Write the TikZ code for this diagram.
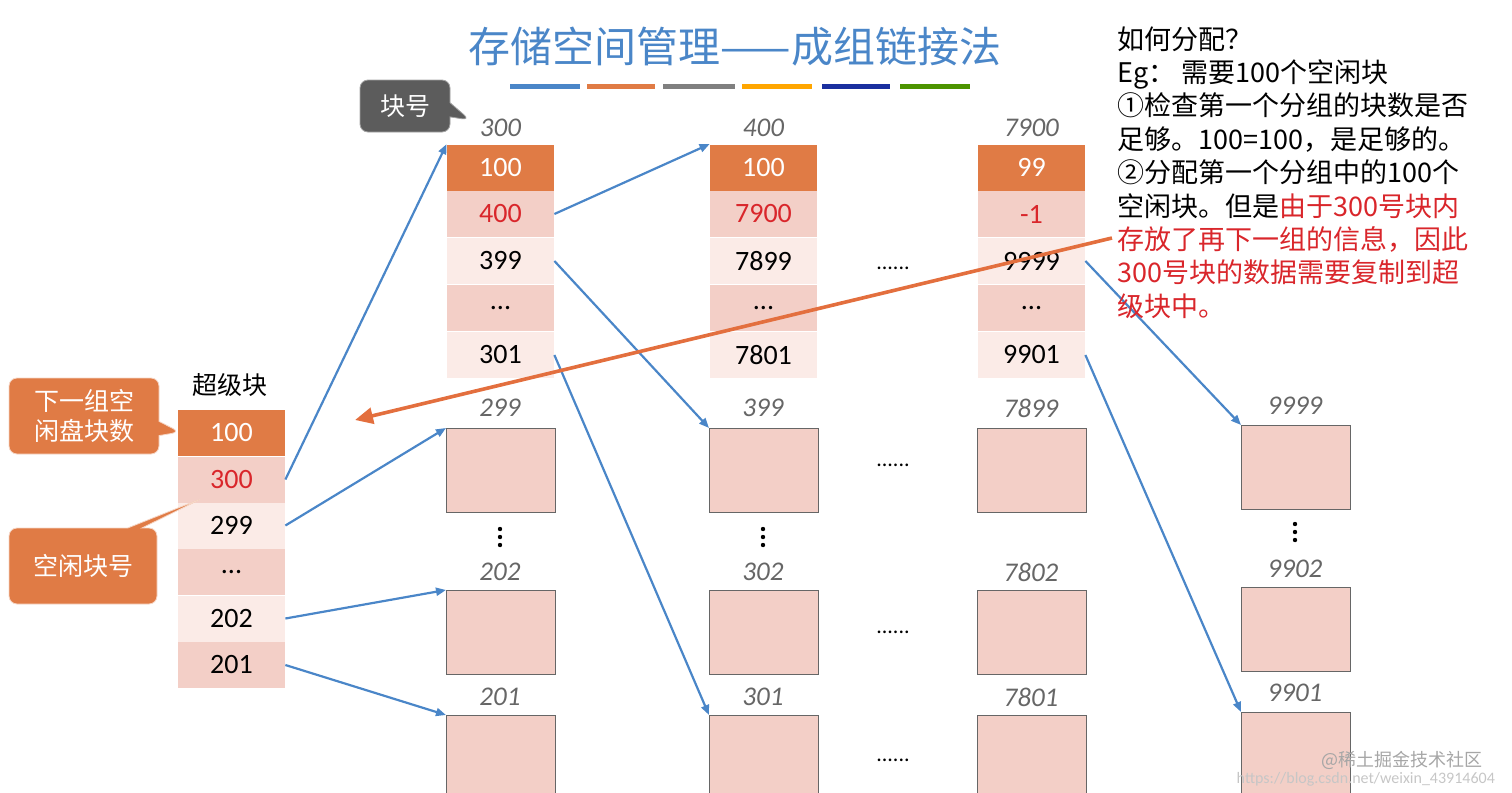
\documentclass[tikz,border=0pt]{standalone}
\usepackage{fontspec}
\setmainfont{Carlito}
\newfontfamily\cjk{Noto Sans CJK SC}
\usetikzlibrary{arrows.meta,shapes.callouts}
\definecolor{tblue}{HTML}{4A86C8}
\definecolor{aorg}{HTML}{E07B45}
\definecolor{cpink}{HTML}{F3CFC7}
\definecolor{clight}{HTML}{FBEBE7}
\definecolor{cgray}{HTML}{666666}
\definecolor{rtxt}{HTML}{D9262B}
\tikzset{
 cell/.style={minimum width=53.5pt,minimum height=23pt,inner sep=0pt,font=\fontsize{14}{14}\selectfont},
 hd/.style={cell,fill=aorg,text=white},
 pk/.style={cell,fill=cpink},
 lt/.style={cell,fill=clight},
 blk/.style={draw=cgray,line width=0.5pt,fill=cpink,minimum width=54.5pt,minimum height=42pt,inner sep=0pt,anchor=north west},
 lab/.style={font=\fontsize{13.5}{13.5}\selectfont\itshape,text=cgray},
 arr/.style={draw=tblue,line width=1.1pt,-{Triangle[length=5pt,width=4pt]}},
 dts/.style={font=\fontsize{11}{11}\selectfont,inner sep=0pt},
 call/.style={rectangle callout,rounded corners=4pt,draw=white!70!aorg,fill=aorg,text=white,font=\cjk\fontsize{12.5}{15}\selectfont,align=center,inner sep=3pt}
}
\begin{document}
\begin{tikzpicture}[x=0.5pt,y=-0.5pt]
\useasboundingbox (0,0) rectangle (1512,793);
% title
\node[text=tblue,font=\cjk\fontsize{21}{21}\selectfont] (title) at (735,47) {存储空间管理——成组链接法};
\foreach \a/\b/\c in {510/580/tblue,587/655/aorg,663/735/gray,742/812/{orange!70!yellow},822/890/{blue!50!tblue!70!black},900/970/{green!40!black!70!yellow}}
  \draw[\c,line width=2.5pt] (\a,86) -- (\b,86);
% superblock
\node[font=\cjk\fontsize{12.5}{12.5}\selectfont] (sl) at (230,385) {超级块};
\node[hd] (s1) at (231.5,433) {100};
\node[pk,text=rtxt] (s2) at (231.5,479.5) {300};
\node[lt] (s3) at (231.5,525.5) {299};
\node[pk] (s4) at (231.5,572) {...};
\node[lt] (s5) at (231.5,618.5) {202};
\node[pk] (s6) at (231.5,665) {201};
% columns
\foreach \n/\x/\t/\v/\w/\y/\z in {a/500.5/300/100/400/399/301,b/763.5/400/100/7900/7899/7801,c/1031.5/7900/99/-1/9999/9901}{
 \node[lab] (\n0) at (\x,128) {\t};
 \node[hd] (\n1) at (\x,167.5) {\v};
 \node[pk,text=rtxt] (\n2) at (\x,214) {\w};
 \node[lt] (\n3) at (\x,261) {\y};
 \node[pk] (\n4) at (\x,308) {...};
 \node[lt] (\n5) at (\x,355) {\z};
}
% blocks
\foreach \n/\x/\la/\lb/\lc in {p/446/299/202/201,q/709/399/302/301,r/977/7899/7802/7801}{
 \node[blk] (\n1) at (\x,428) {};
 \node[blk] (\n2) at (\x,590) {};
 \node[blk,minimum height=40pt] (\n3) at (\x,715) {};
 \node[lab] (\n1l) at (\x+54,408) {\la};
 \node[lab] (\n2l) at (\x+54,572) {\lb};
 \node[lab] (\n3l) at (\x+54,697) {\lc};
}
\node[blk] (t1) at (1241,425) {};
\node[blk] (t2) at (1241,587) {};
\node[blk,minimum height=42pt] (t3) at (1241,712) {};
\node[lab] (t1l) at (1295,406) {9999};
\node[lab] (t2l) at (1295,569) {9902};
\node[lab] (t3l) at (1295,693) {9901};
\foreach \x/\y in {500/537,763/537,1295/532}
  \foreach \d in {-8,0,8} \fill (\x,\y+\d) circle (1.1pt);
\foreach \y [count=\i] in {268,465,632,760} \node[dts] (h\i) at (893,\y) {......};
% arrows
\draw[arr] (s2.east) -- (a1.north west);
\draw[arr] (s3.east) -- (p1.north west);
\draw[arr] (s5.east) -- (p2.north west);
\draw[arr] (s6.east) -- (p3.north west);
\draw[arr] (a2.east) -- (b1.north west);
\draw[arr] (a3.east) -- (q1.north west);
\draw[arr] (a5.east) -- (q3.north west);
\draw[arr] (c3.east) -- (t1.north west);
\draw[arr] (c5.east) -- (t3.north west);
\coordinate (oa) at (1112,238);
\coordinate (ob) at (355,420);
\draw[draw=aorg!90!red,line width=1.8pt,-{Triangle[length=9pt,width=8pt]}] (oa) -- (ob);
% callouts
\node[call,fill=cgray!90!black,draw=cgray!60,minimum width=45pt,minimum height=26pt,callout absolute pointer={(470,120)}] (k) at (405,106) {块号};
\node[call,minimum width=75pt,minimum height=38pt,callout absolute pointer={(180,432)}] (c1) at (84,416) {下一组空\\闲盘块数};
\node[call,minimum width=74pt,minimum height=38pt,callout absolute pointer={(203,498)}] (c2) at (83,566) {空闲块号};
% right text
\node[anchor=north west,align=left,font=\cjk\fontsize{13.5}{16.7}\selectfont,inner sep=0pt] (rt) at (1117,26) {如何分配？\\Eg： 需要100个空闲块\\①检查第一个分组的块数是否\\足够。100=100，是足够的。\\②分配第一个分组中的100个\\空闲块。但是\textcolor{rtxt}{由于300号块内}\\\textcolor{rtxt}{存放了再下一组的信息，因此}\\\textcolor{rtxt}{300号块的数据需要复制到超}\\\textcolor{rtxt}{级块中。}};
% watermark
\node[text=gray!70,font=\cjk\fontsize{9}{9}\selectfont,anchor=east] (w1) at (1490,760) {@稀土掘金技术社区};
\node[text=gray!45,font=\fontsize{8}{8}\selectfont,anchor=east] (w2) at (1502,779) {https://blog.csdn.net/weixin\_43914604};
\end{tikzpicture}
\end{document}
